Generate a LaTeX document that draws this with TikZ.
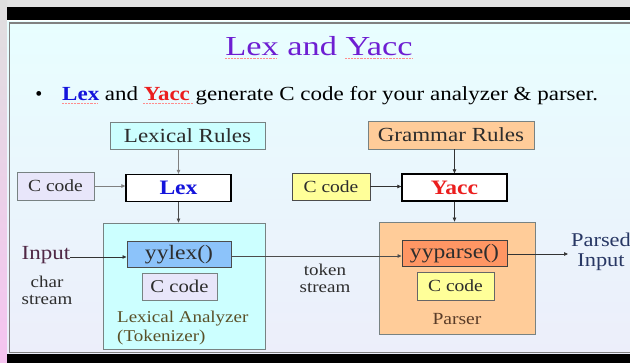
\documentclass[tikz,border=0pt]{standalone}
\usepackage{fontspec}
\setmainfont{Liberation Serif}
\newfontfamily\diag[FakeStretch=1.15]{Liberation Serif}
\newfontfamily\titlef[FakeStretch=1.25]{Liberation Serif}
\newfontfamily\bulf[FakeStretch=1.15]{Liberation Serif}
\usetikzlibrary{arrows.meta}
\definecolor{titlec}{RGB}{110,30,210}
\definecolor{lexblue}{RGB}{20,20,220}
\definecolor{yaccred}{RGB}{235,30,30}
\definecolor{txt}{RGB}{45,45,45}
\definecolor{cyanfill}{RGB}{204,255,255}
\definecolor{lavfill}{RGB}{232,230,250}
\definecolor{peach}{RGB}{255,204,153}
\definecolor{orangef}{RGB}{255,150,100}
\definecolor{bluef}{RGB}{140,195,250}
\definecolor{yellowf}{RGB}{255,255,153}
\definecolor{bordg}{RGB}{120,130,130}
\tikzset{
  box/.style={draw=bordg, line width=0.7pt, minimum width=#1, inner sep=0pt, font=\diag\fontsize{17}{20}\selectfont, text=txt},
  tool/.style={draw=black, line width=1.3pt, fill=white, minimum width=105pt, minimum height=27pt, inner sep=0pt, font=\diag\fontsize{20.5}{22}\selectfont\bfseries},
  conn/.style={line width=0.7pt, -{Triangle[length=4pt,width=3.5pt]}},
  lbl/.style={font=\diag\fontsize{16.5}{18}\selectfont, text=txt, inner sep=0pt, align=center},
  squig/.style={red!45, densely dotted, line width=0.45pt},
}
\begin{document}
\begin{tikzpicture}[x=1pt,y=-1pt]
\useasboundingbox (0,0) rectangle (630,363);
% backdrop
\fill[gray!22] (0,0) rectangle (630,363);
\shade[top color=gray!25, bottom color={rgb,255:red,245;green,195;blue,240}] (0,0) rectangle (7,363);
\fill[black] (7,7) rectangle (630,20.5);
\fill[black] (7,353.5) rectangle (630,363);
\fill[white] (7,20.5) rectangle (630,22);
\shade[top color={rgb,255:red,232;green,254;blue,255}, bottom color={rgb,255:red,236;green,238;blue,250}] (7,22) rectangle (630,353.5);
\draw[gray, line width=1.2pt] (9.5,353) -- (9.5,23) -- (630,23);
\draw[gray, line width=1pt] (9.5,352.5) -- (630,352.5);
% title
\node[text=titlec, font=\titlef\fontsize{27.5}{30}\selectfont, inner sep=0pt, anchor=base] (title) at (319,55.7) {Lex and Yacc};
\draw[squig] (225,58.5) -- (276,58.5) (345,58.5) -- (413,58.5);
% bullet
\node[font=\bulf\fontsize{20}{22}\selectfont, inner sep=0pt, anchor=base west, text=black] (bul) at (62,101)
  {\textcolor{lexblue}{\bfseries Lex} and \textcolor{yaccred}{\bfseries Yacc} generate C code for your analyzer \& parser.};
\draw[squig] (62,103.5) -- (98,103.5) (143,103.5) -- (193,103.5);
\node[font=\fontsize{20}{22}\selectfont, inner sep=0pt, anchor=base] (dot) at (39,101) {•};
% left side
\node[box=155pt, minimum height=27pt, fill=cyanfill, font=\diag\fontsize{20}{22}\selectfont] (lexrules) at (187.5,135.5) {Lexical Rules};
\node[tool, text=lexblue] (lex) at (178.5,188) {Lex};
\node[box=77pt, minimum height=28pt, fill=lavfill] (ccl) at (55.5,186) {C code};
\node[box=162pt, minimum height=126pt, fill=cyanfill] (lexan) at (184,286) {};
\node[box=104pt, minimum height=26pt, fill=bluef, draw=black!70, line width=1pt, font=\diag\fontsize{20.5}{22}\selectfont] (yylex) at (179,255) {yylex()};
\node[box=75pt, minimum height=27pt, fill=lavfill, font=\diag\fontsize{18}{20}\selectfont] (cclin) at (179.5,286.5) {C code};
\node[lbl, align=left, anchor=west, text={rgb,255:red,90;green,80;blue,40}] (lexanl) at (117,328.5) {Lexical Analyzer\\[1pt](Tokenizer)};
\node[lbl, font=\diag\fontsize{20}{22}\selectfont, text={rgb,255:red,80;green,40;blue,70}] (input) at (46,255.5) {Input};
\node[lbl] (chars) at (47,290.5) {char\\[-1pt]stream};
% right side
\node[box=166pt, minimum height=28pt, fill=peach, font=\diag\fontsize{20}{22}\selectfont] (grules) at (451,135) {Grammar Rules};
\node[tool, text=yaccred] (yacc) at (454.5,187.5) {Yacc};
\node[box=78pt, minimum height=27pt, fill=yellowf, draw=black!70] (ccy) at (331,186.5) {C code};
\node[box=156pt, minimum height=112pt, fill=peach] (parser) at (457,278) {};
\node[box=105pt, minimum height=26pt, fill=orangef, draw=black!75, line width=1pt, font=\diag\fontsize{20.5}{22}\selectfont] (yyparse) at (454.5,254) {yyparse()};
\node[box=77pt, minimum height=28pt, fill=yellowf, draw=black!60] (ccyin) at (455.5,286) {C code};
\node[lbl, font=\diag\fontsize{17}{20}\selectfont, text={rgb,255:red,90;green,60;blue,40}] (parserl) at (457,319) {Parser};
\node[lbl] (tok) at (325,278) {token\\[-1pt]stream};
\node[lbl, font=\diag\fontsize{19.5}{20}\selectfont, text={rgb,255:red,40;green,55;blue,100}] (parsed) at (601,252) {Parsed\\Input};
\coordinate (outend) at (568,254);
% connectors
\draw[conn, draw=gray] (lexrules.south -| lex.north) -- (lex.north);
\draw[conn, draw=gray] (ccl.east) -- (lex.west |- ccl.east);
\draw[conn, draw=black!70] (lex.south) -- (lex.south |- lexan.north);
\draw[conn, draw=black!80] (input.east |- 0,257) -- (yylex.west |- 0,257);
\draw[conn, draw=black!70] (yylex.east |- 0,256) -- (yyparse.west |- 0,256);
\draw[conn, draw=black!80] (grules.south -| yacc.north) -- (yacc.north);
\draw[conn, draw=black!80] (ccy.east) -- (yacc.west |- ccy.east);
\draw[conn, draw=black!80] (yacc.south) -- (yacc.south |- parser.north);
\draw[conn, draw=black!80] (yyparse.east) -- (outend);
\end{tikzpicture}
\end{document}
